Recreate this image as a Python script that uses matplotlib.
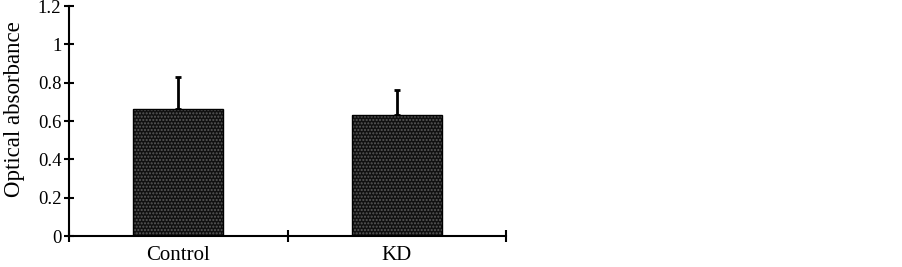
import matplotlib.pyplot as plt
import numpy as np

# data
groups = ['Control', 'KD']
means = [0.665, 0.63]
errs = [0.165, 0.13]
yticks = [0, 0.2, 0.4, 0.6, 0.8, 1, 1.2]
ylabels = ['0', '0.2', '0.4', '0.6', '0.8', '1', '1.2']

plt.rcParams['font.family'] = ['Liberation Serif', 'DejaVu Serif']

fig = plt.figure(figsize=(9.03, 2.67), dpi=100)
ax = fig.add_axes([0.0764, 0.1161, 0.4840, 0.8614])

x = np.arange(len(groups)) + 0.5
# dotted fill: dark face with light dot hatch, then black outline on top
ax.bar(x, means, width=0.41, color='#111111', edgecolor='#5a5a5a', hatch='.....', linewidth=0, zorder=2)
ax.bar(x, means, width=0.41, fill=False, edgecolor='black', linewidth=1.0, zorder=3)
ax.errorbar(x, means, yerr=[np.zeros(len(errs)), errs], fmt='none', ecolor='black',
            elinewidth=2, capsize=2, capthick=2, zorder=1)

ax.set_xlim(0, len(groups))
ax.set_ylim(0, 1.2)
ax.set_yticks(yticks)
ax.set_yticklabels(ylabels, fontsize=13.5)
ax.set_xticks(np.arange(len(groups) + 1))
ax.set_xticklabels([])
ax.set_xticks(x, minor=True)
ax.set_xticklabels(groups, minor=True, fontsize=15)
ax.tick_params(axis='x', which='major', direction='inout', length=9, width=1.5)
ax.tick_params(axis='x', which='minor', length=0, pad=7)
ax.tick_params(axis='y', direction='inout', length=7, width=1.5, pad=2)
ax.set_ylabel('Optical absorbance', fontsize=16.5)
ax.yaxis.set_label_coords(-0.10, 0.55)

for s in ['top', 'right']:
    ax.spines[s].set_visible(False)
for s in ['left', 'bottom']:
    ax.spines[s].set_linewidth(1.5)

fig.savefig('out.png', dpi=100)
